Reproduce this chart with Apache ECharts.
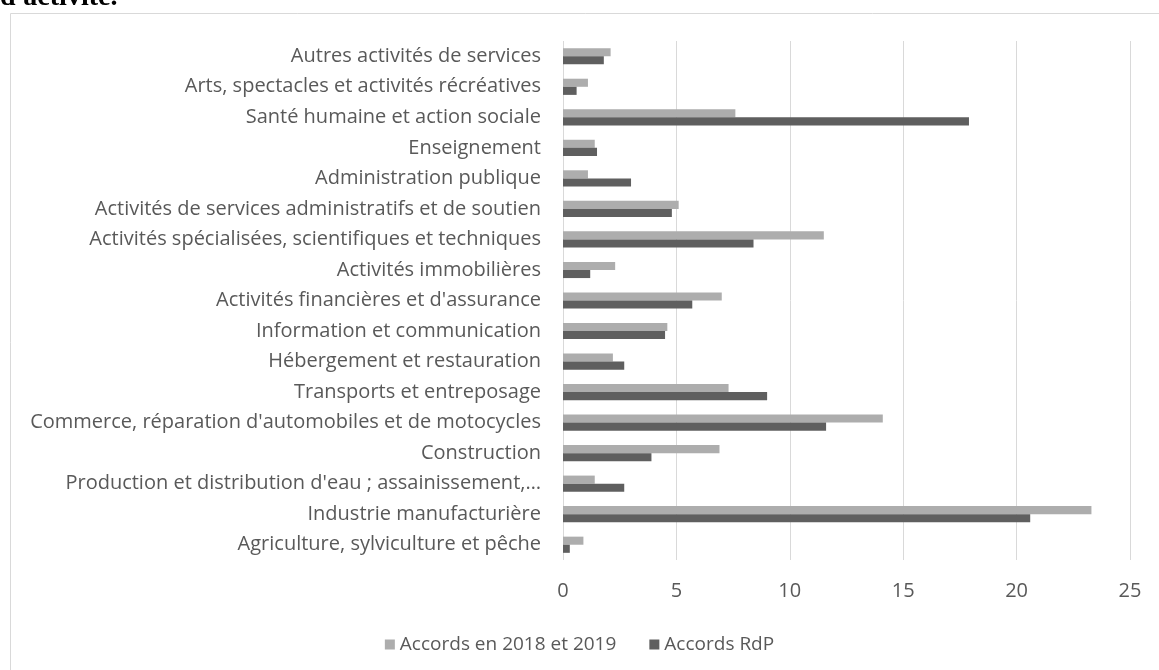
<!DOCTYPE html>
<html><head><meta charset="utf-8">
<script src="https://cdn.jsdelivr.net/npm/echarts@6/dist/echarts.min.js"></script>
<style>html,body{margin:0;padding:0;background:#fff}#c{width:1159px;height:670px}</style>
</head><body><div id="c"></div>
<script>
const categories = [
  "Agriculture, sylviculture et pêche",
  "Industrie manufacturière",
  "Production et distribution d'eau ; assainissement,…",
  "Construction",
  "Commerce, réparation d'automobiles et de motocycles",
  "Transports et entreposage",
  "Hébergement et restauration",
  "Information et communication",
  "Activités financières et d'assurance",
  "Activités immobilières",
  "Activités spécialisées, scientifiques et techniques",
  "Activités de services administratifs et de soutien",
  "Administration publique",
  "Enseignement",
  "Santé humaine et action sociale",
  "Arts, spectacles et activités récréatives",
  "Autres activités de services"
];
const accords2018_2019 = [0.9, 23.3, 1.4, 6.9, 14.1, 7.3, 2.2, 4.6, 7.0, 2.3, 11.5, 5.1, 1.1, 1.4, 7.6, 1.1, 2.1];
const accordsRdP      = [0.3, 20.6, 2.7, 3.9, 11.6, 9.0, 2.7, 4.5, 5.7, 1.2, 8.4, 4.8, 3.0, 1.5, 17.9, 0.6, 1.8];
const seriesNames = ["Accords en 2018 et 2019", "Accords RdP"];
const xTicks = [0, 5, 10, 15, 20, 25];

const font = "Open Sans";
const chart = echarts.init(document.getElementById('c'));
chart.setOption({
  animation: false,
  graphic: [
    { type: 'rect', shape: { x: 10.5, y: 13.5, width: 1160, height: 700 }, style: { fill: 'none', stroke: '#d9d9d9', lineWidth: 1 } },
    { type: 'text', x: 0, y: -16, style: { text: "d'activité.", font: "bold 28px 'Liberation Serif'", fill: '#000', verticalAlign: 'top' } }
  ],
  legend: {
    top: 630, left: 'center', itemWidth: 10, itemHeight: 10, itemGap: 33,
    icon: 'rect',
    textStyle: { fontFamily: font, fontSize: 19, color: '#595959' },
    data: seriesNames
  },
  grid: { left: 563, right: 29, top: 41, bottom: 110, containLabel: false },
  xAxis: {
    type: 'value', min: xTicks[0], max: xTicks[xTicks.length - 1], interval: 5,
    axisLine: { show: false }, axisTick: { show: false },
    axisLabel: { fontFamily: font, fontSize: 20, color: '#595959', margin: 21 },
    splitLine: { lineStyle: { color: '#d9d9d9', width: 1 } }
  },
  yAxis: {
    type: 'category', data: categories,
    axisLine: { show: false }, axisTick: { show: false },
    axisLabel: { fontFamily: font, fontSize: 20, color: '#595959', margin: 22 }
  },
  series: [
    { name: seriesNames[0], type: 'bar', data: accords2018_2019, itemStyle: { color: '#adadad' }, barGap: '0%', barCategoryGap: '47%' },
    { name: seriesNames[1], type: 'bar', data: accordsRdP, itemStyle: { color: '#5f5f5f' }, barGap: '0%', barCategoryGap: '47%' }
  ]
});
</script></body></html>
